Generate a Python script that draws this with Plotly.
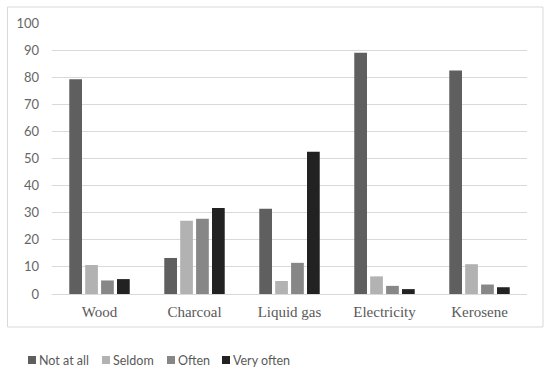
import plotly.graph_objects as go

categories = ["Wood", "Charcoal", "Liquid gas", "Electricity", "Kerosene"]
series_names = ["Not at all", "Seldom", "Often", "Very often"]
not_at_all = [79.2, 13.3, 31.5, 89.0, 82.5]
seldom = [10.7, 27.0, 4.8, 6.5, 11.0]
often = [5.0, 27.8, 11.5, 3.0, 3.5]
very_often = [5.5, 31.7, 52.5, 1.8, 2.5]
colors = ["#5f5f5f", "#b2b2b2", "#878787", "#222222"]
y_ticks = [0, 10, 20, 30, 40, 50, 60, 70, 80, 90, 100]

fig = go.Figure()
for name, vals, col in zip(series_names, [not_at_all, seldom, often, very_often], colors):
    fig.add_trace(go.Bar(x=categories, y=vals, name=name, marker_color=col,
                         marker_line_width=0, showlegend=False))

W, H = 550, 374
ml, mr, mt, mb = 52, 23, 23, 80
pw, ph = W - ml - mr, H - mt - mb

def px_x(p):
    return (p - ml) / pw

def px_y(p):
    return (H - mb - p) / ph

shapes = [dict(type="rect", xref="paper", yref="paper",
               x0=px_x(7.5), x1=px_x(543), y0=px_y(327), y1=px_y(7),
               line=dict(color="#d9d9d9", width=1), fillcolor="rgba(0,0,0,0)", layer="below")]
annotations = []
# custom legend (layout positions in pixels)
legend_x = [28, 102, 167, 222]
sq = 8
ly = 360
for name, col, x0 in zip(series_names, colors, legend_x):
    shapes.append(dict(type="rect", xref="paper", yref="paper",
                       x0=px_x(x0), x1=px_x(x0 + sq), y0=px_y(ly + sq / 2), y1=px_y(ly - sq / 2),
                       line=dict(width=0), fillcolor=col))
    annotations.append(dict(text=name, xref="paper", yref="paper", x=px_x(x0 + sq + 1),
                            y=px_y(ly), xanchor="left", yanchor="middle", showarrow=False,
                            font=dict(family="Lato", size=12.5, color="#595959")))

fig.update_layout(
    width=W, height=H,
    margin=dict(l=ml, r=mr, t=mt, b=mb, autoexpand=False),
    barmode="group", bargap=0.33, bargroupgap=0.2,
    plot_bgcolor="white", paper_bgcolor="white",
    font=dict(family="Lato", color="#595959", size=13),
    xaxis=dict(showgrid=False, showline=True, linecolor="#d9d9d9", linewidth=1,
               tickfont=dict(family="Liberation Serif", size=15, color="#595959"),
               ticks="", ticklabelstandoff=4),
    yaxis=dict(range=[0, 100], tickvals=y_ticks, showgrid=True, gridcolor="#d9d9d9",
               gridwidth=1, zeroline=False, showline=False, ticks="",
               tickfont=dict(family="Lato", size=13, color="#666666"),
               ticklabelstandoff=12),
    showlegend=False,
    shapes=shapes,
    annotations=annotations,
)

fig.write_html("out.html", config={"displayModeBar": False},
               post_script="document.body.style.margin='0';document.body.style.overflow='hidden';")
